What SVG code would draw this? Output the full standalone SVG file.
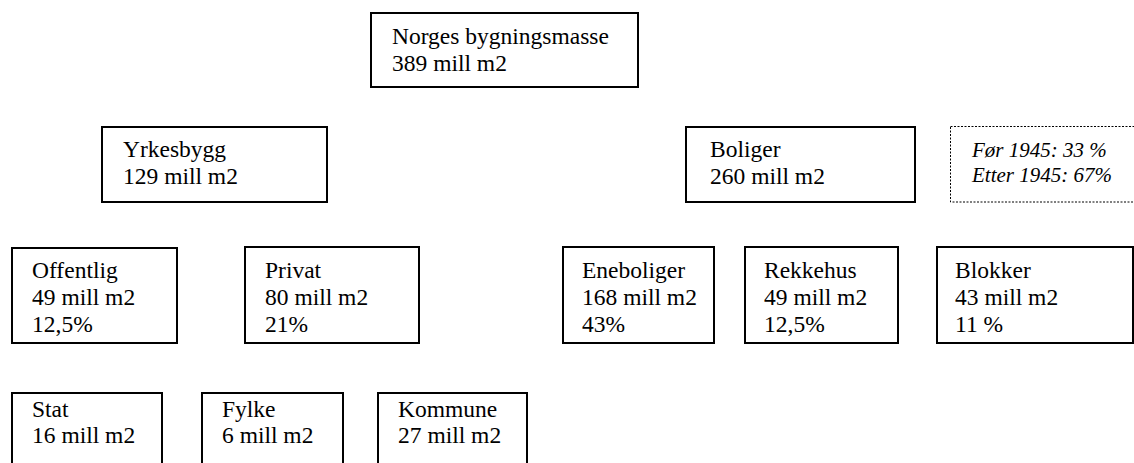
<svg xmlns="http://www.w3.org/2000/svg" width="1134" height="463" viewBox="0 0 1134 463">
<style>
.box{fill:#fff;stroke:#000;stroke-width:2}
.dot{fill:#fff;stroke:#000;stroke-width:1;stroke-dasharray:2 1.5}
.t{font-family:'Liberation Serif','DejaVu Serif',serif;font-size:23.5px;fill:#000}
.it{font-style:italic;font-size:21px}
</style>
<rect width="1134" height="463" fill="#fff"/>
<g id="norges"><rect class="box" x="371" y="13" width="267" height="74"/><text class="t" x="392" y="44">Norges bygningsmasse</text><text class="t" x="392" y="71">389 mill m2</text></g>
<g id="yrkesbygg"><rect class="box" x="102" y="127" width="225" height="75"/><text class="t" x="123" y="157">Yrkesbygg</text><text class="t" x="123" y="184">129 mill m2</text></g>
<g id="boliger"><rect class="box" x="686" y="127" width="229" height="75"/><text class="t" x="710" y="157">Boliger</text><text class="t" x="710" y="184">260 mill m2</text></g>
<g id="periode"><rect class="dot" x="950.5" y="126.5" width="190" height="75.5"/><text class="t it" x="972" y="157">Før 1945: 33 %</text><text class="t it" x="972" y="182">Etter 1945: 67%</text></g>
<g id="offentlig"><rect class="box" x="12" y="248" width="165" height="95"/><text class="t" x="32" y="278">Offentlig</text><text class="t" x="32" y="305">49 mill m2</text><text class="t" x="32" y="332">12,5%</text></g>
<g id="privat"><rect class="box" x="245" y="247" width="174" height="96"/><text class="t" x="265" y="278">Privat</text><text class="t" x="265" y="305">80 mill m2</text><text class="t" x="265" y="332">21%</text></g>
<g id="eneboliger"><rect class="box" x="563" y="247" width="151" height="96"/><text class="t" x="582" y="278">Eneboliger</text><text class="t" x="582" y="305">168 mill m2</text><text class="t" x="582" y="332">43%</text></g>
<g id="rekkehus"><rect class="box" x="745" y="247" width="153" height="96"/><text class="t" x="764" y="278">Rekkehus</text><text class="t" x="764" y="305">49 mill m2</text><text class="t" x="764" y="332">12,5%</text></g>
<g id="blokker"><rect class="box" x="937" y="247" width="196" height="96"/><text class="t" x="955" y="278">Blokker</text><text class="t" x="955" y="305">43 mill m2</text><text class="t" x="955" y="332">11 %</text></g>
<g id="stat"><rect class="box" x="12" y="393" width="150" height="80"/><text class="t" x="32" y="417">Stat</text><text class="t" x="32" y="443">16 mill m2</text></g>
<g id="fylke"><rect class="box" x="202" y="393" width="141" height="80"/><text class="t" x="222" y="417">Fylke</text><text class="t" x="222" y="443">6 mill m2</text></g>
<g id="kommune"><rect class="box" x="378" y="393" width="149" height="80"/><text class="t" x="398" y="417">Kommune</text><text class="t" x="398" y="443">27 mill m2</text></g>
<g id="connectors"></g>
</svg>
